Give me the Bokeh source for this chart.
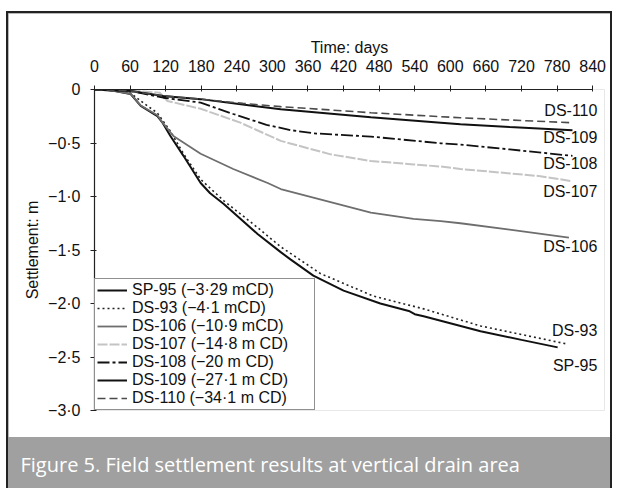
from bokeh.plotting import figure
from bokeh.layouts import column
from bokeh.models import (Range1d, LinearAxis, FixedTicker, Legend, LegendItem, Label, Title)
from bokeh.embed import file_html
from bokeh.resources import INLINE

# ---------------- data (days, settlement m) ----------------
sp95_days = [0, 30, 61, 78, 106, 115, 128, 150, 179, 195, 218, 275, 314, 331, 369, 420, 482, 530, 540, 555, 651, 720, 781]
sp95_vals = [0, -0.01, -0.042, -0.154, -0.248, -0.313, -0.435, -0.62, -0.874, -0.97, -1.07, -1.35, -1.52, -1.59, -1.74, -1.88, -2.0, -2.07, -2.10, -2.12, -2.26, -2.34, -2.41]

ds93_days = [0, 30, 61, 78, 106, 128, 150, 179, 218, 275, 314, 381, 470, 555, 651, 798]
ds93_vals = [0, -0.01, -0.033, -0.107, -0.22, -0.39, -0.60, -0.84, -1.04, -1.29, -1.47, -1.72, -1.93, -2.05, -2.21, -2.38]

ds106_days = [0, 30, 61, 78, 106, 115, 133, 179, 234, 292, 314, 369, 466, 538, 584, 617, 700, 800]
ds106_vals = [0, -0.01, -0.04, -0.15, -0.24, -0.31, -0.435, -0.60, -0.743, -0.874, -0.93, -1.01, -1.15, -1.21, -1.23, -1.25, -1.31, -1.385]

ds107_days = [0, 60, 110, 123, 179, 246, 314, 398, 466, 538, 584, 617, 752, 803]
ds107_vals = [0, -0.01, -0.03, -0.107, -0.18, -0.31, -0.48, -0.606, -0.668, -0.70, -0.72, -0.743, -0.81, -0.855]

ds108_days = [0, 61, 116, 179, 234, 290, 331, 370, 466, 584, 617, 700, 806]
ds108_vals = [0, -0.014, -0.077, -0.123, -0.229, -0.33, -0.38, -0.41, -0.44, -0.503, -0.515, -0.56, -0.62]

ds109_days = [0, 61, 116, 179, 250, 314, 466, 584, 617, 700, 806]
ds109_vals = [0, -0.014, -0.06, -0.09, -0.14, -0.185, -0.26, -0.31, -0.325, -0.35, -0.38]

ds110_days = [0, 61, 116, 179, 250, 314, 466, 584, 617, 700, 803]
ds110_vals = [0, -0.014, -0.06, -0.09, -0.13, -0.16, -0.217, -0.254, -0.264, -0.285, -0.31]

legend_labels = ["SP-95 (\u22123\u00b729 mCD)", "DS-93 (\u22124\u00b71 mCD)", "DS-106 (\u221210\u00b79 mCD)",
                 "DS-107 (\u221214\u00b78 m CD)", "DS-108 (\u221220 m CD)", "DS-109 (\u221227\u00b71 m CD)",
                 "DS-110 (\u221234\u00b71 m CD)"]
end_labels = ["SP-95", "DS-93", "DS-106", "DS-107", "DS-108", "DS-109", "DS-110"]
end_label_y = [-2.584, -2.257, -1.47, -0.949, -0.696, -0.453, -0.20]

x_ticks = [0, 60, 120, 180, 240, 300, 360, 420, 480, 540, 600, 660, 720, 780, 840]
y_ticks = [0, -0.5, -1.0, -1.5, -2.0, -2.5, -3.0]
y_tick_labels = ["0", "\u22120\u00b75", "\u22121\u00b70", "\u22121\u00b75", "\u22122\u00b70", "\u22122\u00b75", "\u22123\u00b70"]

caption = "Figure 5. Field settlement results at vertical drain area"

FONT = "Liberation Sans"
BAND = "#a0a0a0"

# ---------------- main chart ----------------
p = figure(width=602, height=424, output_backend="svg", toolbar_location=None,
           x_range=Range1d(0, 860), y_range=Range1d(-3.0, 0),
           x_axis_location=None, y_axis_location=None,
           min_border_left=86, min_border_right=6, min_border_top=76, min_border_bottom=27)
p.grid.visible = False
p.outline_line_color = None
p.background_fill_color = "white"
p.border_fill_color = "white"

xaxis = LinearAxis(axis_label="Time: days", ticker=FixedTicker(ticks=x_ticks), bounds=(0, 840))
yaxis = LinearAxis(axis_label="Settlement: m", ticker=FixedTicker(ticks=y_ticks))
yaxis.major_label_overrides = {t: s for t, s in zip(y_ticks, y_tick_labels)}
for ax in (xaxis, yaxis):
    ax.axis_line_color = "#222222"
    ax.axis_line_width = 1.2
    ax.major_tick_line_color = "#222222"
    ax.major_tick_out = 4
    ax.major_tick_in = 2
    ax.minor_tick_line_color = None
    ax.major_label_text_font = FONT
    ax.major_label_text_font_size = "16px"
    ax.major_label_text_color = "#111111"
    ax.axis_label_text_font = FONT
    ax.axis_label_text_font_size = "16px"
    ax.axis_label_text_font_style = "normal"
    ax.axis_label_text_color = "#111111"
xaxis.major_label_standoff = 14
xaxis.axis_label_standoff = 1
yaxis.major_label_standoff = 10
yaxis.axis_label_standoff = 4
p.add_layout(xaxis, "above")
p.add_layout(yaxis, "left")

series = [
    (sp95_days, sp95_vals, dict(line_color="#111111", line_width=2.0)),
    (ds93_days, ds93_vals, dict(line_color="#222222", line_width=1.6, line_dash="2 3")),
    (ds106_days, ds106_vals, dict(line_color="#6e6e6e", line_width=1.8)),
    (ds107_days, ds107_vals, dict(line_color="#c4c4c4", line_width=2.0, line_dash="10 2")),
    (ds108_days, ds108_vals, dict(line_color="#111111", line_width=1.8, line_dash="12 3 3 3")),
    (ds109_days, ds109_vals, dict(line_color="#111111", line_width=2.0)),
    (ds110_days, ds110_vals, dict(line_color="#4a4a4a", line_width=1.6, line_dash="8 4")),
]
items = []
for (xs, ys, style), lab in zip(series, legend_labels):
    r = p.line(xs, ys, **style)
    items.append(LegendItem(label=lab, renderers=[r]))

for txt, yv in zip(end_labels, end_label_y):
    p.add_layout(Label(x=848, y=yv, text=txt, text_align="right", text_baseline="middle",
                       text_font=FONT, text_font_size="16px", text_color="#111111"))

legend = Legend(items=items, location=(0, 0), margin=0, padding=2, spacing=0,
                label_height=18, glyph_height=18, glyph_width=30, label_standoff=5, label_width=180,
                label_text_font=FONT, label_text_font_size="16px", label_text_line_height=1.0,
                label_text_color="#111111",
                border_line_color="#222222", border_line_width=1.2, background_fill_alpha=1.0)
p.add_layout(legend, "center")

# ---------------- caption band ----------------
cap = figure(width=602, height=52, output_backend="svg", toolbar_location=None,
             x_range=Range1d(0, 1), y_range=Range1d(0, 1),
             x_axis_location=None, y_axis_location=None,
             min_border_left=0, min_border_right=0, min_border_top=0, min_border_bottom=0)
cap.grid.visible = False
cap.outline_line_color = None
cap.background_fill_color = BAND
cap.border_fill_color = BAND
cap.add_layout(Title(text=caption, align="left", offset=-74, standoff=0,
                     text_color="white", text_font="Open Sans", text_font_size="20px",
                     text_font_style="normal"), "above")
# small empty title used as top spacing for the caption
cap.add_layout(Title(text=" ", standoff=0, text_font_size="8px", text_color=BAND), "above")

layout = column(p, cap, spacing=0, margin=(11, 0, 0, 6),
                styles={"border": "2px solid #222222", "border-bottom": "none",
                        "background-color": BAND})

open("out.html", "w").write(file_html(layout, INLINE))
